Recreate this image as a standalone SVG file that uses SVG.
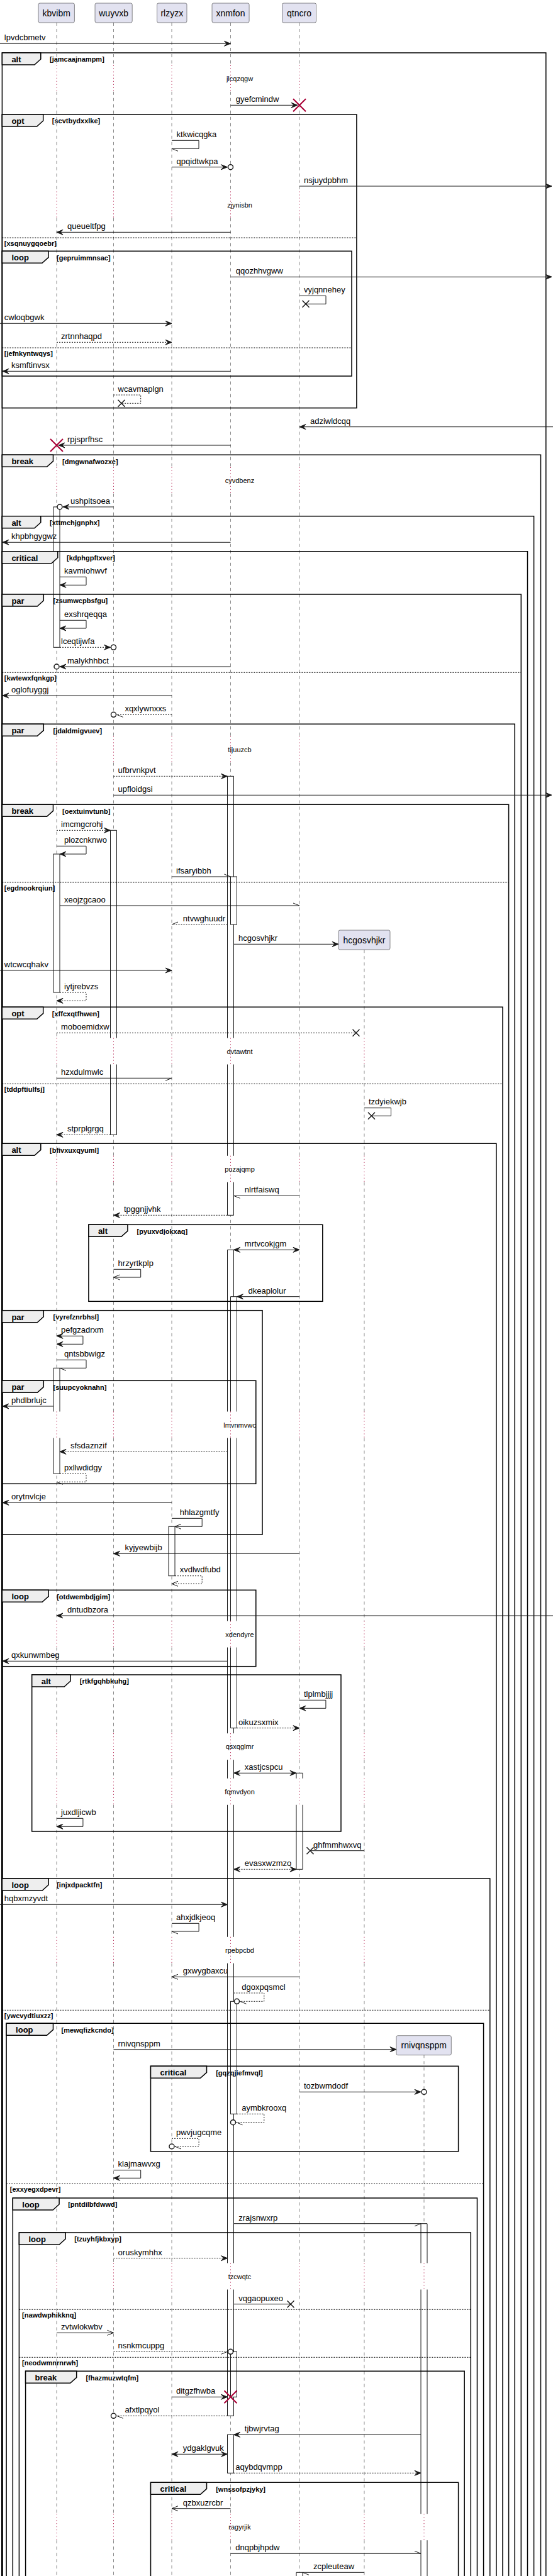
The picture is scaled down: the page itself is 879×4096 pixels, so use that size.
<svg xmlns="http://www.w3.org/2000/svg" xmlns:xlink="http://www.w3.org/1999/xlink" width="879" height="4096" viewBox="0 0 879 4096">
<style>
text{font-family:"Liberation Sans",Arial,sans-serif;fill:#000}
.pb{fill:#E2E2F0;stroke:#181818;stroke-width:0.5}
.pt{font-size:14px;text-anchor:middle}
.ll{stroke:#181818;stroke-width:0.5;stroke-dasharray:5,5;fill:none}
.dl{stroke:#A80036;stroke-width:1;stroke-dasharray:1,4;fill:none}
.bf{fill:#fff;stroke:none}
.bo{fill:none;stroke:#181818;stroke-width:1}
.br{fill:#fff;stroke:#181818;stroke-width:1}
.fr{fill:none;stroke:#000;stroke-width:1.5}
.tab{fill:#EEEEEE;stroke:#000;stroke-width:1.5}
.tt{font-size:13px;font-weight:bold}
.ct{font-size:11px;font-weight:bold}
.es{stroke:#000;stroke-width:1;stroke-dasharray:2,2;fill:none}
.m{fill:none;stroke:#181818;stroke-width:1}
.d{stroke-dasharray:2,2}
.ml{font-size:13px}
.dt{font-size:11px;text-anchor:middle}
.x{fill:none;stroke:#181818;stroke-width:1.5}
.rx{fill:none;stroke:#A80036;stroke-width:2}
.c{fill:#fff;stroke:#181818;stroke-width:1.5}
</style>
<defs>
<marker id="af" markerUnits="userSpaceOnUse" markerWidth="1" markerHeight="1" orient="auto-start-reverse" style="overflow:visible"><path d="M0,0L-10,-4L-6,0L-10,4Z" fill="#181818" stroke="#181818" stroke-width="1"/></marker>
<marker id="ao" markerUnits="userSpaceOnUse" markerWidth="1" markerHeight="1" orient="auto" style="overflow:visible"><path d="M-10,-4L0,0L-10,4" fill="none" stroke="#181818" stroke-width="1"/></marker>
<marker id="hA" markerUnits="userSpaceOnUse" markerWidth="1" markerHeight="1" orient="auto" style="overflow:visible"><path d="M-10,-4L0,0" fill="none" stroke="#181818" stroke-width="1"/></marker>
<marker id="hB" markerUnits="userSpaceOnUse" markerWidth="1" markerHeight="1" orient="auto" style="overflow:visible"><path d="M-10,4L0,0" fill="none" stroke="#181818" stroke-width="1"/></marker>
<path id="ll" d="M0,36V103.8M0,145.8V304.5M0,346.5V742.8M0,784.8V1170.5M0,1212.5V1650.5M0,1692.5V1837.8M0,1879.8V2244.5M0,2286.5V2577.5M0,2619.5V2756.2M0,2798.2V2827.8M0,2869.8V3079.8M0,3121.8V3598.5M0,3640.5V3997.2M0,4039.2V4096"/>
<path id="dl" d="M0,103.8V145.8M0,304.5V346.5M0,742.8V784.8M0,1170.5V1212.5M0,1650.5V1692.5M0,1837.8V1879.8M0,2244.5V2286.5M0,2577.5V2619.5M0,2756.2V2798.2M0,2827.8V2869.8M0,3079.8V3121.8M0,3598.5V3640.5M0,3997.2V4039.2"/>
</defs>
<rect width="879" height="4096" fill="#fff"/>

<g id="lifelines">
<use xlink:href="#ll" x="90" class="ll"/>
<use xlink:href="#ll" x="180.5" class="ll"/>
<use xlink:href="#ll" x="273" class="ll"/>
<use xlink:href="#ll" x="366.5" class="ll"/>
<use xlink:href="#ll" x="476" class="ll"/>
<path class="ll" d="M579,1510.3V1650.5M579,1692.5V1837.8M579,1879.8V2244.5M579,2286.5V2577.5M579,2619.5V2756.2M579,2798.2V2827.8M579,2869.8V3079.8M579,3121.8V3598.5M579,3640.5V3997.2M579,4039.2V4096"/>
<path class="ll" d="M674,3267.3V3598.5M674,3640.5V3997.2M674,4039.2V4096"/>
</g>

<g id="participants">
<g id="kbvibm"><rect class="pb" x="61" y="5" width="57.4" height="31" rx="2.5"/><text class="pt" x="89.7" y="25.5">kbvibm</text></g>
<g id="wuyvxb"><rect class="pb" x="151" y="5" width="59.2" height="31" rx="2.5"/><text class="pt" x="180.6" y="25.5">wuyvxb</text></g>
<g id="rlzyzx"><rect class="pb" x="249.6" y="5" width="47.4" height="31" rx="2.5"/><text class="pt" x="273.3" y="25.5">rlzyzx</text></g>
<g id="xnmfon"><rect class="pb" x="337" y="5" width="59.1" height="31" rx="2.5"/><text class="pt" x="366.5" y="25.5">xnmfon</text></g>
<g id="qtncro"><rect class="pb" x="448.5" y="5" width="54.1" height="31" rx="2.5"/><text class="pt" x="475.5" y="25.5">qtncro</text></g>
<g id="hcgosvhjkr"><rect class="pb" x="538" y="1479" width="82" height="31" rx="2.5"/><text class="pt" x="579" y="1499.5">hcgosvhjkr</text></g>
<g id="rnivqnsppm"><rect class="pb" x="630" y="3236.7" width="87.3" height="31" rx="2.5"/><text class="pt" x="673.7" y="3257.2">rnivqnsppm</text></g>
</g>

<g id="activations">
<rect class="br" x="85" y="806" width="10" height="223.3"/>
<rect class="br" x="85" y="1358" width="10" height="220"/>
<rect class="bf" x="85" y="2175.3" width="10" height="168"/>
<path class="bo" d="M85,2244.5V2175.3H95V2244.5M85,2286.5V2343.3H95V2286.5"/>
<rect class="bf" x="175.5" y="1320.3" width="10" height="484"/>
<path class="bo" d="M175.5,1650.5V1320.3H185.5V1650.5M175.5,1692.5V1804.3H185.5V1692.5"/>
<rect class="br" x="268" y="2427.3" width="10" height="78.4"/>
<rect class="bf" x="361.5" y="1234.3" width="10" height="698"/>
<path class="bo" d="M361.5,1650.5V1234.3H371.5V1650.5M361.5,1692.5V1837.8M371.5,1692.5V1837.8M361.5,1879.8V1932.3H371.5V1879.8"/>
<rect class="bf" x="361.5" y="1987.3" width="10" height="1854"/>
<path class="bo" d="M361.5,2244.5V1987.3H371.5V2244.5M361.5,2286.5V2577.5M371.5,2286.5V2577.5M361.5,2619.5V2756.2M371.5,2619.5V2756.2M361.5,2798.2V2827.8M371.5,2798.2V2827.8M361.5,2869.8V3079.8M371.5,2869.8V3079.8M361.5,3121.8V3598.5M371.5,3121.8V3598.5M361.5,3640.5V3841.3H371.5V3640.5"/>
<rect class="br" x="361.5" y="3871.3" width="10" height="61"/>
<rect class="br" x="366.5" y="1394" width="10" height="76"/>
<rect class="bf" x="366.5" y="2061.7" width="10" height="686"/>
<path class="bo" d="M366.5,2244.5V2061.7H376.5V2244.5M366.5,2286.5V2577.5M376.5,2286.5V2577.5M366.5,2619.5V2747.7H376.5V2619.5"/>
<rect class="br" x="366.5" y="3182.3" width="10" height="179"/>
<rect class="br" x="366.5" y="3739.3" width="10" height="72"/>
<rect class="bf" x="471" y="2819.3" width="10" height="153"/>
<path class="bo" d="M471,2827.8V2819.3H481V2827.8M471,2869.8V2972.3H481V2869.8"/>
<rect class="bf" x="471" y="4090.3" width="10" height="10"/>
<path class="bo" d="M471,4100V4090.3H481V4100"/>
<rect class="bf" x="669" y="3535.7" width="10" height="565"/>
<path class="bo" d="M669,3598.5V3535.7H679V3598.5M669,3640.5V3997.2M679,3640.5V3997.2M669,4039.2V4100M679,4039.2V4100"/>
</g>

<g id="delays">
<use xlink:href="#dl" x="90" class="dl"/>
<use xlink:href="#dl" x="180.5" class="dl"/>
<use xlink:href="#dl" x="273" class="dl"/>
<use xlink:href="#dl" x="366.5" class="dl"/>
<use xlink:href="#dl" x="476" class="dl"/>
<path class="dl" d="M579,1650.5V1692.5M579,1837.8V1879.8M579,2244.5V2286.5M579,2577.5V2619.5M579,2756.2V2798.2M579,2827.8V2869.8M579,3079.8V3121.8M579,3598.5V3640.5M579,3997.2V4039.2"/>
<path class="dl" d="M674,3598.5V3640.5M674,3997.2V4039.2"/>
<text class="dt" x="381" y="128.8">jlcqzqgw</text>
<text class="dt" x="381" y="329.5">zjynisbn</text>
<text class="dt" x="381" y="767.8">cyvdbenz</text>
<text class="dt" x="381" y="1195.5">tijuuzcb</text>
<text class="dt" x="381" y="1675.5">dvtawtnt</text>
<text class="dt" x="381" y="1862.8">puzajqmp</text>
<text class="dt" x="381" y="2269.5">lmvnmvwc</text>
<text class="dt" x="381" y="2602.5">xdendyre</text>
<text class="dt" x="381" y="2781.2">qsxqglmr</text>
<text class="dt" x="381" y="2852.8">fqmvdyon</text>
<text class="dt" x="381" y="3104.8">rpebpcbd</text>
<text class="dt" x="381" y="3623.5">tzcwqtc</text>
<text class="dt" x="381" y="4022.2">ragyrjik</text>
</g>

<g id="frames">
<path class="fr" d="M3.4,4100V84H867.8V4100"/><polygon class="tab" points="3.4,84 64.8,84 64.8,94 54.8,103 3.4,103"/><text class="tt" x="18.4" y="99">alt</text><text class="ct" x="79" y="98.2">[jamcaajnampm]</text>
<rect class="fr" x="3.4" y="182" width="563.5" height="466.7"/><polygon class="tab" points="3.4,182 68.7,182 68.7,192 58.7,201 3.4,201"/><text class="tt" x="18.4" y="197">opt</text><text class="ct" x="82.8" y="196.2">[scvtbydxxlke]</text>
<path class="es" d="M3.4,378H566.9"/><text class="ct" x="6.8" y="390.5">[xsqnuygqoebr]</text>
<rect class="fr" x="3.4" y="399.3" width="555.6" height="198.7"/><polygon class="tab" points="3.4,399.3 77,399.3 77,409.3 67,418.3 3.4,418.3"/><text class="tt" x="18.4" y="414.3">loop</text><text class="ct" x="90" y="413.5">[gepruimmnsac]</text>
<path class="es" d="M3.4,553H559"/><text class="ct" x="6.8" y="565.5">[jefnkyntwqys]</text>
<path class="fr" d="M3.4,4100V723.3H859.5V4100"/><polygon class="tab" points="3.4,723.3 84.5,723.3 84.5,733.3 74.5,742.3 3.4,742.3"/><text class="tt" x="18.4" y="738.3">break</text><text class="ct" x="99" y="737.5">[dmgwnafwozxe]</text>
<path class="fr" d="M3.4,4100V820.7H848.6V4100"/><polygon class="tab" points="3.4,820.7 64.8,820.7 64.8,830.7 54.8,839.7 3.4,839.7"/><text class="tt" x="18.4" y="835.7">alt</text><text class="ct" x="79" y="834.9">[xttmchjgnphx]</text>
<path class="fr" d="M3.4,4100V876.7H838.5V4100"/><polygon class="tab" points="3.4,876.7 91.8,876.7 91.8,886.7 81.8,895.7 3.4,895.7"/><text class="tt" x="18.4" y="891.7">critical</text><text class="ct" x="106" y="890.9">[kdphgpftxver]</text>
<path class="fr" d="M3.4,4100V945H828.3V4100"/><polygon class="tab" points="3.4,945 69.3,945 69.3,955 59.3,964 3.4,964"/><text class="tt" x="18.4" y="960">par</text><text class="ct" x="84.5" y="959.2">[zsumwcpbsfgu]</text>
<path class="es" d="M3.4,1069.3H828.3"/><text class="ct" x="6.8" y="1081.8">[kwtewxfqnkgp]</text>
<path class="fr" d="M3.4,4100V1151.3H818.2V4100"/><polygon class="tab" points="3.4,1151.3 69.3,1151.3 69.3,1161.3 59.3,1170.3 3.4,1170.3"/><text class="tt" x="18.4" y="1166.3">par</text><text class="ct" x="84.5" y="1165.5">[jdaldmigvuev]</text>
<path class="fr" d="M3.4,4100V1279.3H808.6V4100"/><polygon class="tab" points="3.4,1279.3 84.5,1279.3 84.5,1289.3 74.5,1298.3 3.4,1298.3"/><text class="tt" x="18.4" y="1294.3">break</text><text class="ct" x="99" y="1293.5">[oextuinvtunb]</text>
<path class="es" d="M3.4,1403H808.6"/><text class="ct" x="6.8" y="1415.5">[egdnookrqiun]</text>
<path class="fr" d="M3.4,4100V1601.3H799V4100"/><polygon class="tab" points="3.4,1601.3 68.7,1601.3 68.7,1611.3 58.7,1620.3 3.4,1620.3"/><text class="tt" x="18.4" y="1616.3">opt</text><text class="ct" x="82.8" y="1615.5">[xffcxqtfhwen]</text>
<path class="es" d="M3.4,1723.3H799"/><text class="ct" x="6.8" y="1735.8">[tddpftiulfsj]</text>
<path class="fr" d="M3.4,4100V1818.3H788.9V4100"/><polygon class="tab" points="3.4,1818.3 64.8,1818.3 64.8,1828.3 54.8,1837.3 3.4,1837.3"/><text class="tt" x="18.4" y="1833.3">alt</text><text class="ct" x="79" y="1832.5">[bfivxuxqyuml]</text>
<rect class="fr" x="140.9" y="1947.3" width="371.9" height="122"/><polygon class="tab" points="140.9,1947.3 202.9,1947.3 202.9,1957.3 192.9,1966.3 140.9,1966.3"/><text class="tt" x="155.9" y="1962.3">alt</text><text class="ct" x="217.5" y="1961.5">[pyuxvdjokxaq]</text>
<rect class="fr" x="3.4" y="2083.7" width="413.6" height="356.3"/><polygon class="tab" points="3.4,2083.7 69.3,2083.7 69.3,2093.7 59.3,2102.7 3.4,2102.7"/><text class="tt" x="18.4" y="2098.7">par</text><text class="ct" x="84.5" y="2097.9">[vyrefznrbhsl]</text>
<rect class="fr" x="3.4" y="2195.3" width="403.4" height="164"/><polygon class="tab" points="3.4,2195.3 69.3,2195.3 69.3,2205.3 59.3,2214.3 3.4,2214.3"/><text class="tt" x="18.4" y="2210.3">par</text><text class="ct" x="84.5" y="2209.5">[suupcyoknahn]</text>
<rect class="fr" x="3.4" y="2528.3" width="403.4" height="121.4"/><polygon class="tab" points="3.4,2528.3 77.2,2528.3 77.2,2538.3 67.2,2547.3 3.4,2547.3"/><text class="tt" x="18.4" y="2543.3">loop</text><text class="ct" x="90.2" y="2542.5">[otdwembdjgim]</text>
<rect class="fr" x="50.7" y="2663" width="491.3" height="249"/><polygon class="tab" points="50.7,2663 112.1,2663 112.1,2673 102.1,2682 50.7,2682"/><text class="tt" x="65.7" y="2678">alt</text><text class="ct" x="126.8" y="2677.2">[rtkfgqhbkuhg]</text>
<path class="fr" d="M3.4,4100V2987H778.8V4100"/><polygon class="tab" points="3.4,2987 77.2,2987 77.2,2997 67.2,3006 3.4,3006"/><text class="tt" x="18.4" y="3002">loop</text><text class="ct" x="90.2" y="3001.2">[injxdpacktfn]</text>
<path class="es" d="M3.4,3196.3H778.8"/><text class="ct" x="6.8" y="3208.8">[ywcvydtiuxzz]</text>
<path class="fr" d="M10.1,4100V3217.3H768.6V4100"/><polygon class="tab" points="10.1,3217.3 84.5,3217.3 84.5,3227.3 74.5,3236.3 10.1,3236.3"/><text class="tt" x="25.1" y="3232.3">loop</text><text class="ct" x="97.5" y="3231.5">[mewqfizkcndo]</text>
<path class="es" d="M10.1,3472.3H768.6"/><text class="ct" x="15.8" y="3484.8">[exxyegxdpevr]</text>
<rect class="fr" x="239.5" y="3285.3" width="489.1" height="135.7"/><polygon class="tab" points="239.5,3285.3 328.5,3285.3 328.5,3295.3 318.5,3304.3 239.5,3304.3"/><text class="tt" x="254.5" y="3300.3">critical</text><text class="ct" x="343.2" y="3299.5">[gqzqjiefmvql]</text>
<path class="fr" d="M20.3,4100V3495H758.5V4100"/><polygon class="tab" points="20.3,3495 94.1,3495 94.1,3505 84.1,3514 20.3,3514"/><text class="tt" x="35.3" y="3510">loop</text><text class="ct" x="108.2" y="3509.2">[pntdilbfdwwd]</text>
<path class="fr" d="M30.4,4100V3550H748.3V4100"/><polygon class="tab" points="30.4,3550 104.2,3550 104.2,3560 94.2,3569 30.4,3569"/><text class="tt" x="45.4" y="3565">loop</text><text class="ct" x="118.3" y="3564.2">[tzuyhfjkbxyp]</text>
<path class="es" d="M30.4,3672.3H748.3"/><text class="ct" x="35" y="3684.8">[nawdwphikknq]</text>
<path class="es" d="M30.4,3748.3H748.3"/><text class="ct" x="35" y="3760.8">[neodwmnrnrwh]</text>
<path class="fr" d="M40.6,4100V3770.3H738.2V4100"/><polygon class="tab" points="40.6,3770.3 121.7,3770.3 121.7,3780.3 111.7,3789.3 40.6,3789.3"/><text class="tt" x="55.6" y="3785.3">break</text><text class="ct" x="136.4" y="3784.5">[fhazmuzwtqfm]</text>
<path class="fr" d="M239.5,4100V3947.3H728.6V4100"/><polygon class="tab" points="239.5,3947.3 328.5,3947.3 328.5,3957.3 318.5,3966.3 239.5,3966.3"/><text class="tt" x="254.5" y="3962.3">critical</text><text class="ct" x="343.2" y="3961.5">[wnssofpzjyky]</text>
</g>

<g id="connectors">
<g><path class="m" d="M0,69.3H366.5" marker-end="url(#af)"/><text class="ml" x="6.8" y="64.3">lpvdcbmetv</text></g>
<g><path class="m" d="M366.5,167.3H473" marker-end="url(#af)"/><path class="rx" d="M466,157.3L486,177.3M486,157.3L466,177.3"/><text class="ml" x="374.7" y="162.3">gyefcmindw</text></g>
<g><path class="m" d="M273,223.3H316V236.3H273" marker-end="url(#hA)"/><text class="ml" x="280.6" y="217.8">ktkwicqgka</text></g>
<g><path class="m" d="M273,265.7H361.5" marker-end="url(#af)"/><circle class="c" cx="366.5" cy="265.7" r="4"/><text class="ml" x="280.6" y="260.7">qpqidtwkpa</text></g>
<g><path class="m" d="M476,296H877" marker-end="url(#af)"/><text class="ml" x="483" y="291">nsjuydpbhm</text></g>
<g><path class="m" d="M366.5,369.3H90" marker-end="url(#af)"/><text class="ml" x="107" y="364.3">queueltfpg</text></g>
<g><path class="m" d="M366.5,440.3H877" marker-end="url(#af)"/><text class="ml" x="374.7" y="435.3">qqozhhvgww</text></g>
<g><path class="m" d="M476,470.3H518V483.3H486"/><path class="x" d="M480.5,477.8l11,11m0,-11l-11,11"/><text class="ml" x="483" y="464.8">vyjqnnehey</text></g>
<g><path class="m" d="M0,514.3H273" marker-end="url(#af)"/><text class="ml" x="6.8" y="509.3">cwloqbgwk</text></g>
<g><path class="m d" d="M90,544.3H273" marker-end="url(#af)"/><text class="ml" x="97" y="539.3">zrtnnhaqpd</text></g>
<g><path class="m" d="M366.5,590.3H4" marker-end="url(#af)"/><text class="ml" x="18" y="585.3">ksmftinvsx</text></g>
<g><path class="m d" d="M180.5,628H223.7V641.3H193"/><path class="x" d="M187.5,635.8l11,11m0,-11l-11,11"/><text class="ml" x="187.6" y="622.5">wcavmaplgn</text></g>
<g><path class="m" d="M879,678.7H476" marker-end="url(#af)"/><text class="ml" x="493" y="673.7">adziwldcqq</text></g>
<g><path class="m" d="M366.5,708H93" marker-end="url(#af)"/><path class="rx" d="M80,698L100,718M100,698L80,718"/><text class="ml" x="107" y="703">rpjsprfhsc</text></g>
<g><path class="m" d="M180.5,806H100" marker-end="url(#af)"/><circle class="c" cx="95" cy="806" r="4"/><text class="ml" x="112.1" y="801">ushpitsoea</text></g>
<g><path class="m" d="M366.5,862.3H4" marker-end="url(#af)"/><text class="ml" x="18" y="857.3">khpbhgygwz</text></g>
<g><path class="m" d="M95,917.3H137V930.3H95" marker-end="url(#af)"/><text class="ml" x="102" y="911.8">kavmiohwvf</text></g>
<g><path class="m" d="M95,986.3H137V999H95" marker-end="url(#af)"/><text class="ml" x="102" y="980.8">exshrqeqqa</text></g>
<g><path class="m d" d="M95,1029.3H175.5" marker-end="url(#af)"/><circle class="c" cx="180.5" cy="1029.3" r="4"/><text class="ml" x="97" y="1024.3">lceqtijwfa</text></g>
<g><path class="m" d="M366.5,1060H95" marker-end="url(#af)"/><circle class="c" cx="90" cy="1060" r="4"/><text class="ml" x="107" y="1055">malykhhbct</text></g>
<g><path class="m" d="M273,1106H4" marker-end="url(#af)"/><text class="ml" x="18" y="1101">oglofuyggj</text></g>
<g><path class="m d" d="M273,1136.3H185.5" marker-end="url(#hA)"/><circle class="c" cx="180.5" cy="1136.3" r="4"/><text class="ml" x="198.4" y="1131.3">xqxlywnxxs</text></g>
<g><path class="m d" d="M180.5,1234.3H361.5" marker-end="url(#af)"/><text class="ml" x="187.6" y="1229.3">ufbrvnkpvt</text></g>
<g><path class="m" d="M180.5,1264.3H877" marker-end="url(#af)"/><text class="ml" x="187.6" y="1259.3">upfloidgsi</text></g>
<g><path class="m d" d="M90,1320.3H175.5" marker-end="url(#af)"/><text class="ml" x="97" y="1315.3">imcmgcrohj</text></g>
<g><path class="m" d="M90,1345.3H137V1358H95" marker-end="url(#af)"/><text class="ml" x="102" y="1339.8">plozcnknwo</text></g>
<g><path class="m" d="M273,1394H366.5" marker-end="url(#hA)"/><text class="ml" x="280" y="1389">ifsaryibbh</text></g>
<g><path class="m" d="M95,1440H476" marker-end="url(#hA)"/><text class="ml" x="102" y="1435">xeojzgcaoo</text></g>
<g><path class="m d" d="M361.5,1470H273" marker-end="url(#hB)"/><text class="ml" x="290.8" y="1465">ntvwghuudr</text></g>
<g><path class="m" d="M371.5,1501.3H538" marker-end="url(#af)"/><text class="ml" x="379" y="1496.3">hcgosvhjkr</text></g>
<g><path class="m" d="M0,1543H273" marker-end="url(#af)"/><text class="ml" x="6.8" y="1538">wtcwcqhakv</text></g>
<g><path class="m d" d="M95,1578H137V1591.3H90" marker-end="url(#af)"/><text class="ml" x="102" y="1572.5">iytjrebvzs</text></g>
<g><path class="m d" d="M90,1642.3H566"/><path class="x" d="M560.5,1636.8l11,11m0,-11l-11,11"/><text class="ml" x="97" y="1637.3">moboemidxw</text></g>
<g><path class="m" d="M90,1714.3H273" marker-end="url(#hB)"/><text class="ml" x="97" y="1709.3">hzxdulmwlc</text></g>
<g><path class="m" d="M579,1761.7H621.5V1774.3H590.5"/><path class="x" d="M585,1768.8l11,11m0,-11l-11,11"/><text class="ml" x="586" y="1756.2">tzdyiekwjb</text></g>
<g><path class="m d" d="M175.5,1804.3H90" marker-end="url(#af)"/><text class="ml" x="107" y="1799.3">stprplgrgq</text></g>
<g><path class="m" d="M476,1901.3H371.5" marker-end="url(#hA)"/><text class="ml" x="388.8" y="1896.3">nlrtfaiswq</text></g>
<g><path class="m d" d="M361.5,1932.3H180.5" marker-end="url(#af)"/><text class="ml" x="197" y="1927.3">tpggnjjvhk</text></g>
<g><path class="m" d="M371.5,1987.3H476" marker-start="url(#af)" marker-end="url(#af)"/><text class="ml" x="388.8" y="1982.3">mrtvcokjgm</text></g>
<g><path class="m" d="M180.5,2018.3H223.7V2031H180.5" marker-end="url(#ao)"/><text class="ml" x="187.6" y="2012.8">hrzyrtkplp</text></g>
<g><path class="m" d="M476,2061.7H376.5" marker-end="url(#af)"/><text class="ml" x="394.5" y="2056.7">dkeaplolur</text></g>
<g><path class="m" d="M90,2124.3H131.9V2137.3H90" marker-start="url(#af)" marker-end="url(#af)"/><text class="ml" x="97" y="2118.8">pefgzadrxm</text></g>
<g><path class="m" d="M90,2162.3H137V2175.3H95" marker-end="url(#hA)"/><text class="ml" x="102" y="2156.8">qntsbbwigz</text></g>
<g><path class="m" d="M85,2236H4" marker-end="url(#af)"/><text class="ml" x="18" y="2231">phdlbrlujc</text></g>
<g><path class="m d" d="M361.5,2308.3H95" marker-end="url(#af)"/><text class="ml" x="112" y="2303.3">sfsdaznzif</text></g>
<g><path class="m d" d="M95,2343.3H137V2356.3H90" marker-end="url(#hA)"/><text class="ml" x="102" y="2337.8">pxllwdidgy</text></g>
<g><path class="m" d="M273,2389.3H4" marker-end="url(#af)"/><text class="ml" x="18" y="2384.3">orytnvlcje</text></g>
<g><path class="m" d="M273,2414.3H321.2V2427.3H278" marker-end="url(#ao)"/><text class="ml" x="285.7" y="2408.8">hhlazgmtfy</text></g>
<g><path class="m" d="M476,2470.3H180.5" marker-end="url(#af)"/><text class="ml" x="198.4" y="2465.3">kyjyewbijb</text></g>
<g><path class="m d" d="M278,2505.7H321.2V2518.3H273" marker-end="url(#ao)"/><text class="ml" x="285.7" y="2500.2">xvdlwdfubd</text></g>
<g><path class="m" d="M879,2569H90" marker-end="url(#af)"/><text class="ml" x="107" y="2564">dntudbzora</text></g>
<g><path class="m" d="M361.5,2641.3H4" marker-end="url(#af)"/><text class="ml" x="18" y="2636.3">qxkunwmbeg</text></g>
<g><path class="m" d="M476,2703.3H517.9V2716.3H476" marker-end="url(#af)"/><text class="ml" x="483" y="2697.8">tlplmbjjjj</text></g>
<g><path class="m d" d="M376.5,2747.7H476" marker-end="url(#af)"/><text class="ml" x="379" y="2742.7">oikuzsxmix</text></g>
<g><path class="m" d="M371.5,2819.3H471" marker-start="url(#af)" marker-end="url(#af)"/><text class="ml" x="388.8" y="2814.3">xastjcspcu</text></g>
<g><path class="m" d="M90,2891.3H131.9V2904.3H90" marker-end="url(#af)"/><text class="ml" x="97" y="2885.8">juxdljicwb</text></g>
<g><path class="m" d="M579,2942.7H493"/><path class="x" d="M487.5,2937.2l11,11m0,-11l-11,11"/><text class="ml" x="498" y="2937.7">ghfmmhwxvq</text></g>
<g><path class="m d" d="M371.5,2972.3H471" marker-start="url(#af)" marker-end="url(#af)"/><text class="ml" x="388.8" y="2967.3">evasxwzmzo</text></g>
<g><path class="m" d="M0,3028.3H361.5" marker-end="url(#af)"/><text class="ml" x="6.8" y="3023.3">hqbxmzyvdt</text></g>
<g><path class="m" d="M273,3058.3H316.1V3071H273" marker-end="url(#hA)"/><text class="ml" x="280" y="3052.8">ahxjdkjeoq</text></g>
<g><path class="m" d="M476,3143.3H273" marker-end="url(#ao)"/><text class="ml" x="290.8" y="3138.3">gxwygbaxcu</text></g>
<g><path class="m d" d="M371.5,3169H419.8V3182.3H381.5" marker-end="url(#hA)"/><circle class="c" cx="376.5" cy="3182.3" r="4"/><text class="ml" x="384.3" y="3163.5">dgoxpqsmcl</text></g>
<g><path class="m" d="M180.5,3258.7H630" marker-end="url(#af)"/><text class="ml" x="187.6" y="3253.7">rnivqnsppm</text></g>
<g><path class="m" d="M476,3326.3H669" marker-end="url(#af)"/><circle class="c" cx="674" cy="3326.3" r="4"/><text class="ml" x="483" y="3321.3">tozbwmdodf</text></g>
<g><path class="m d" d="M376.5,3361.3H419.8V3374.7H375.5" marker-end="url(#hA)"/><circle class="c" cx="370.5" cy="3374.7" r="4"/><text class="ml" x="384.3" y="3355.8">aymbkrooxq</text></g>
<g><path class="m d" d="M273,3400.3H316.1V3413H278" marker-end="url(#hA)"/><circle class="c" cx="273" cy="3413" r="4"/><text class="ml" x="280" y="3394.8">pwvjugcqme</text></g>
<g><path class="m" d="M180.5,3450.7H223.7V3463.3H180.5" marker-end="url(#af)"/><text class="ml" x="187.6" y="3445.2">klajmawvxg</text></g>
<g><path class="m" d="M371.5,3535.7H669" marker-end="url(#hB)"/><text class="ml" x="379.2" y="3530.7">zrajsnwxrp</text></g>
<g><path class="m d" d="M180.5,3590.7H361.5" marker-end="url(#af)"/><text class="ml" x="187.6" y="3585.7">oruskymhhx</text></g>
<g><path class="m" d="M371.5,3663.7H462"/><path class="x" d="M456.5,3658.2l11,11m0,-11l-11,11"/><text class="ml" x="379.2" y="3658.7">vqgaopuxeo</text></g>
<g><path class="m" d="M90,3709.3H180.5" marker-end="url(#ao)"/><text class="ml" x="97" y="3704.3">zvtwlokwbv</text></g>
<g><path class="m d" d="M180.5,3739.3H361.5" marker-end="url(#hB)"/><circle class="c" cx="366.5" cy="3739.3" r="4"/><text class="ml" x="187.6" y="3734.3">nsnkmcuppg</text></g>
<g><path class="m" d="M273,3811.3H361.5" marker-end="url(#af)"/><path class="rx" d="M356.5,3801.3L376.5,3821.3M376.5,3801.3L356.5,3821.3"/><text class="ml" x="280" y="3806.3">ditgzfhwba</text></g>
<g><path class="m d" d="M361.5,3841.3H185.5" marker-end="url(#hA)"/><circle class="c" cx="180.5" cy="3841.3" r="4"/><text class="ml" x="198.4" y="3836.3">afxtlpqyol</text></g>
<g><path class="m" d="M669,3871.3H371.5" marker-end="url(#af)"/><text class="ml" x="388.8" y="3866.3">tjbwjrvtag</text></g>
<g><path class="m" d="M273,3902.3H361.5" marker-start="url(#af)" marker-end="url(#af)"/><text class="ml" x="290.8" y="3897.3">ydgaklgvuk</text></g>
<g><path class="m d" d="M371.5,3932.3H669" marker-end="url(#af)"/><text class="ml" x="374.2" y="3927.3">aqybdqvmpp</text></g>
<g><path class="m" d="M366.5,3988.7H273" marker-end="url(#ao)"/><text class="ml" x="290.8" y="3983.7">qzbxuzrcbr</text></g>
<g><path class="m" d="M366.5,4060.3H669" marker-end="url(#hA)"/><text class="ml" x="374.2" y="4055.3">dnqpbjhpdw</text></g>
<g><path class="m" d="M579,4090.3H481" marker-end="url(#hA)"/><text class="ml" x="498" y="4085.3">zcpleuteaw</text></g>
</g>
</svg>
